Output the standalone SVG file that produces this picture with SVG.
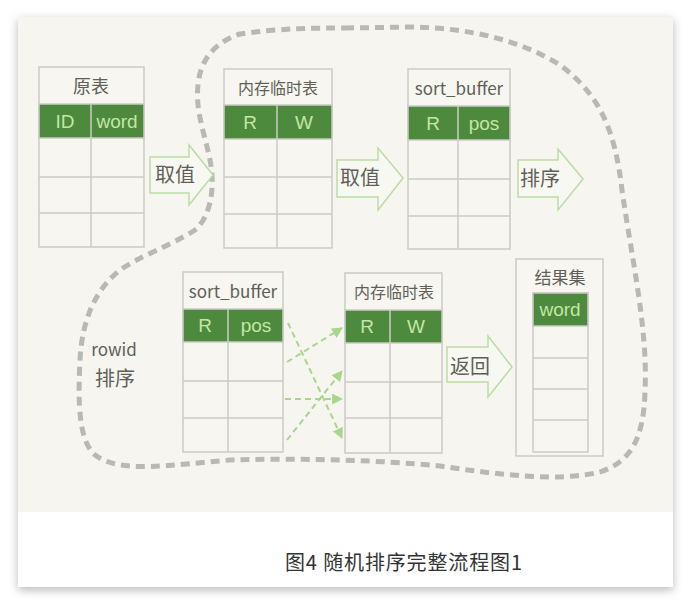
<svg xmlns="http://www.w3.org/2000/svg" width="691" height="605" viewBox="0 0 691 605">
<defs>
<filter id="sh" x="-5%" y="-5%" width="110%" height="110%"><feGaussianBlur stdDeviation="5"/></filter>
<marker id="ah" viewBox="0 0 10 10" refX="9" refY="5" markerWidth="5.5" markerHeight="5.5" orient="auto" markerUnits="strokeWidth"><path d="M0,0 L10,5 L0,10 Z" fill="#a8d68a"/></marker>
<style>
.cell{fill:#f7f6f1;stroke:#cbcbc6;stroke-width:1.5}
.hdr{fill:#4d8a3d;stroke:#cbcbc6;stroke-width:1.5}
.ln{stroke:#cbcbc6;stroke-width:1.5;fill:none}
.t{font-family:"Noto Sans CJK SC","Liberation Sans",sans-serif;fill:#5f5f58;text-anchor:middle}
.g{font-family:"Liberation Sans","Noto Sans CJK SC",sans-serif;fill:#c4e6a4;text-anchor:middle;font-size:19px}
.arw{fill:#f8f8f2;stroke:#bcdca6;stroke-width:1.5}
.at{font-family:"Noto Sans CJK SC",sans-serif;fill:#5f5f58;font-size:20px;text-anchor:middle}
.dsh{stroke:#a8d68a;stroke-width:2;stroke-dasharray:6 4;fill:none}
</style>
</defs>
<rect width="691" height="605" fill="#ffffff"/>
<rect x="18" y="20" width="655" height="570" fill="#b8b8b8" filter="url(#sh)"/>
<rect x="18" y="17" width="655" height="570" fill="#ffffff"/>
<rect x="18" y="17" width="655" height="495" fill="#f6f5f0"/>

<path d="M345,28 L412,27 C470,28 520,40 560,65 C600,95 615,130 622,190 C632,260 648,330 645,390 C644,440 630,462 600,472 C560,482 500,475 440,466 C380,460 300,458 230,460 C170,465 120,474 95,455 C78,440 78,400 80,360 C82,320 95,290 120,270 C140,256 170,246 195,230 C212,215 215,185 210,160 C205,135 195,110 198,85 C200,60 215,42 240,34 C280,28 320,28 345,28 Z" fill="none" stroke="#b9b9b4" stroke-width="5" stroke-dasharray="9 6"/>

<g id="t1">
<rect class="cell" x="39" y="67" width="105" height="180"/>
<rect class="hdr" x="39" y="104" width="105" height="34"/>
<path class="ln" d="M91,104 V247 M39,177 H144 M39,213 H144"/>
<text class="t" x="91" y="93" font-size="18">原表</text>
<text class="g" x="65" y="128">ID</text>
<text class="g" x="117" y="128">word</text>
</g>

<g id="t2">
<rect class="cell" x="224" y="69" width="108" height="179"/>
<rect class="hdr" x="224" y="105" width="108" height="34"/>
<path class="ln" d="M277,105 V248 M224,177 H332 M224,214 H332"/>
<text class="t" x="278" y="94" font-size="16">内存临时表</text>
<text class="g" x="250" y="129">R</text>
<text class="g" x="304" y="129">W</text>
</g>

<g id="t3">
<rect class="cell" x="408" y="69" width="102" height="180"/>
<rect class="hdr" x="408" y="106" width="102" height="34"/>
<path class="ln" d="M458,106 V249 M408,179 H510 M408,216 H510"/>
<text class="t" x="459" y="95" font-size="17">sort_buffer</text>
<text class="g" x="433" y="130">R</text>
<text class="g" x="484" y="130">pos</text>
</g>

<g id="t4">
<rect class="cell" x="183" y="272" width="100" height="180"/>
<rect class="hdr" x="183" y="309" width="100" height="33"/>
<path class="ln" d="M228,309 V452 M183,381 H283 M183,418 H283"/>
<text class="t" x="233" y="298" font-size="17">sort_buffer</text>
<text class="g" x="205" y="332">R</text>
<text class="g" x="256" y="332">pos</text>
</g>

<g id="t5">
<rect class="cell" x="345" y="273" width="97" height="180"/>
<rect class="hdr" x="345" y="310" width="97" height="33"/>
<path class="ln" d="M390,310 V453 M345,382 H442 M345,418 H442"/>
<text class="t" x="394" y="298" font-size="16">内存临时表</text>
<text class="g" x="367" y="333">R</text>
<text class="g" x="416" y="333">W</text>
</g>

<g id="t6">
<rect class="cell" x="516" y="259" width="87" height="197"/>
<rect class="cell" x="533" y="293" width="55" height="159"/>
<rect class="hdr" x="533" y="293" width="55" height="33"/>
<path class="ln" d="M533,358 H588 M533,389 H588 M533,420 H588"/>
<text class="t" x="560" y="284" font-size="17">结果集</text>
<text class="g" x="560" y="316">word</text>
</g>

<g id="a1">
<polygon class="arw" points="150,157 189,157 189,145 213,175 189,205 189,193 150,193"/>
<text class="at" x="175" y="182">取值</text>
</g>
<g id="a2">
<polygon class="arw" points="337,160 378,160 378,148 403,178 378,210 378,197 337,197"/>
<text class="at" x="360" y="185">取值</text>
</g>
<g id="a3">
<polygon class="arw" points="518,160 558,160 558,149 583,179 558,210 558,197 518,197"/>
<text class="at" x="540" y="186">排序</text>
</g>
<g id="a4">
<polygon class="arw" points="447,347 488,347 488,336 512,367 488,397 488,382 447,382"/>
<text class="at" x="470" y="374">返回</text>
</g>

<g id="rowid">
<text class="t" x="114" y="356" font-size="17">rowid</text>
<text class="t" x="115" y="386" font-size="20">排序</text>
</g>

<g id="connectors">
<line class="dsh" x1="287" y1="362" x2="342" y2="328" marker-end="url(#ah)"/>
<line class="dsh" x1="288" y1="323" x2="342" y2="438" marker-end="url(#ah)"/>
<line class="dsh" x1="285" y1="399" x2="342" y2="399" marker-end="url(#ah)"/>
<line class="dsh" x1="287" y1="440" x2="342" y2="371" marker-end="url(#ah)"/>
</g>

<text x="285" y="570" font-family="'Noto Sans CJK SC',sans-serif" font-size="20" fill="#333333" textLength="237">图4 随机排序完整流程图1</text>
</svg>
